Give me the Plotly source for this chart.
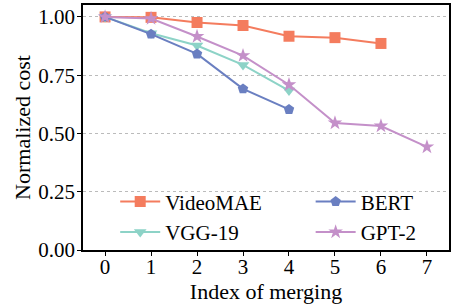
import plotly.graph_objects as go

x_idx = [0, 1, 2, 3, 4, 5, 6, 7]
videomae = [1.0, 0.998, 0.976, 0.963, 0.917, 0.911, 0.886]
vgg19 = [1.0, 0.930, 0.877, 0.794, 0.684]
bert = [1.0, 0.926, 0.841, 0.691, 0.603]
gpt2 = [1.0, 0.993, 0.916, 0.834, 0.709, 0.545, 0.532, 0.442]

y_ticks = [0.0, 0.25, 0.5, 0.75, 1.0]
y_ticklabels = ["0.00", "0.25", "0.50", "0.75", "1.00"]

series = [
    ("VideoMAE", videomae, "#f47c5e", "square", "legend"),
    ("VGG-19", vgg19, "#8dd3c7", "triangle-down", "legend"),
    ("BERT", bert, "#6a7fc1", "pentagon", "legend2"),
    ("GPT-2", gpt2, "#c490c9", "star", "legend2"),
]

fig = go.Figure()
for name, ys, color, sym, lg in series:
    fig.add_trace(go.Scatter(
        x=x_idx[:len(ys)], y=ys, name=name, mode="lines+markers",
        line=dict(color=color, width=2),
        marker=dict(symbol=sym, size=11, color=color),
        legend=lg,
    ))

font = "Liberation Serif"
txt = dict(family=font, size=21, color="black")
ttl = dict(family=font, size=22, color="black")
leg_common = dict(
    orientation="v", yanchor="bottom", y=-0.01, xanchor="left",
    bgcolor="rgba(255,255,255,0)", font=txt, itemwidth=40,
)
fig.update_layout(
    width=455, height=304,
    margin=dict(l=83, r=6, t=3, b=54),
    paper_bgcolor="white", plot_bgcolor="white",
    font=txt,
    showlegend=True,
    legend=dict(x=0.088, **leg_common),
    legend2=dict(x=0.622, **leg_common),
    xaxis=dict(
        range=[-0.48, 7.48], tickvals=x_idx, showgrid=False, zeroline=False,
        showline=True, linecolor="black", linewidth=1.5, mirror=True,
        ticks="outside", ticklen=4, tickcolor="black", tickfont=txt,
        ticklabelstandoff=-7,
        title=dict(text="Index of merging", standoff=0, font=ttl),
    ),
    yaxis=dict(
        range=[0, 1.051], tickvals=y_ticks, ticktext=y_ticklabels,
        showgrid=True, gridcolor="#bbbbbb", griddash="dot", gridwidth=1,
        zeroline=False,
        showline=True, linecolor="black", linewidth=1.5, mirror=True,
        ticks="outside", ticklen=4, tickcolor="black", tickfont=txt,
        ticklabelstandoff=-2,
        title=dict(text="Normalized cost", standoff=2, font=ttl),
    ),
)

fig.write_html("out.html", config={"displayModeBar": False},
               post_script="document.body.style.margin='0';")
